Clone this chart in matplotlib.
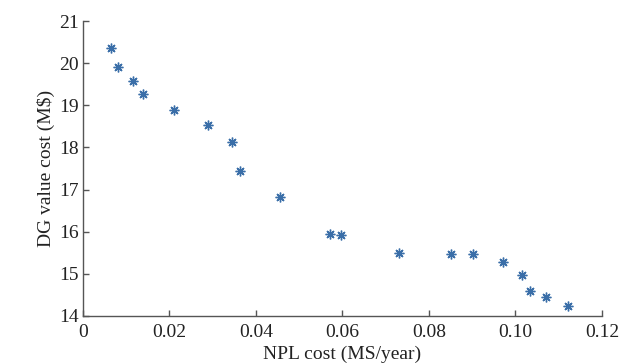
import matplotlib.pyplot as plt

# Pareto points
npl_cost = [0.0065, 0.0081, 0.0116, 0.0139, 0.0210, 0.0289, 0.0345, 0.0363,
            0.0455, 0.0571, 0.0597, 0.0731, 0.0851, 0.0902, 0.0971, 0.1015,
            0.1034, 0.1071, 0.1121]
dg_cost = [20.36, 19.91, 19.58, 19.27, 18.89, 18.53, 18.13, 17.44,
           16.82, 15.95, 15.92, 15.49, 15.47, 15.47, 15.28, 14.97,
           14.59, 14.45, 14.24]

x_ticks = [0, 0.02, 0.04, 0.06, 0.08, 0.10, 0.12]
x_labels = ['0', '0.02', '0.04', '0.06', '0.08', '0.10', '0.12']
y_ticks = [14, 15, 16, 17, 18, 19, 20, 21]

plt.rcParams['font.family'] = ['Liberation Serif', 'DejaVu Serif']

fig = plt.figure(figsize=(6.27, 3.63), dpi=100)
ax = fig.add_axes([0.1324, 0.1295, 0.8276, 0.8125])

ax.plot(npl_cost, dg_cost, linestyle='none', marker=(8, 2, 0), markersize=7,
        markeredgewidth=1.0, color='#3a6ea8')

ax.set_xlim(0, 0.12)
ax.set_ylim(14, 21)
ax.set_xticks(x_ticks)
ax.set_xticklabels(x_labels)
ax.set_yticks(y_ticks)

for s in ['top', 'right']:
    ax.spines[s].set_visible(False)
for s in ['left', 'bottom']:
    ax.spines[s].set_color('#555555')
    ax.spines[s].set_linewidth(1.0)

ax.tick_params(direction='in', length=4, width=1, colors='#555555',
               labelcolor='#222222', labelsize=14)
ax.tick_params(axis='x', pad=6)
ax.tick_params(axis='y', pad=3)

ax.set_xlabel('NPL cost (MS/year)', fontsize=14, color='#222222', labelpad=3)
ax.set_ylabel('DG value cost (M$)', fontsize=14, color='#222222', labelpad=3)

plt.savefig('out.png', dpi=100)
